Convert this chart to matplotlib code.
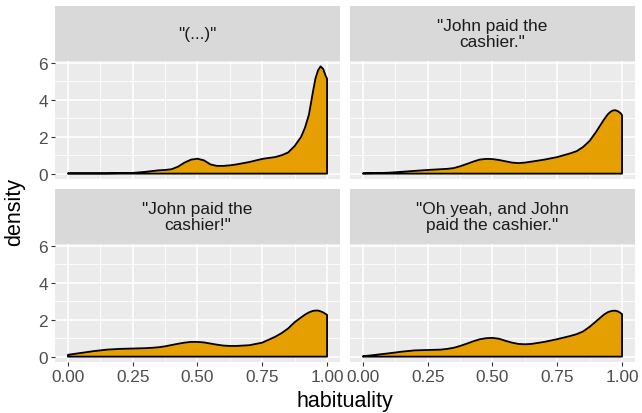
import numpy as np
import matplotlib
matplotlib.use("Agg")
import matplotlib.pyplot as plt

plt.rcParams["font.family"] = ["Liberation Sans", "DejaVu Sans"]

# Density estimates of habituality ratings, one curve per utterance
habituality = [0, 0.05, 0.1, 0.15, 0.2, 0.25, 0.3, 0.325, 0.35, 0.375, 0.4,
               0.425, 0.45, 0.475, 0.5, 0.525, 0.55, 0.575, 0.6, 0.625, 0.65,
               0.7, 0.75, 0.8, 0.825, 0.85, 0.875, 0.9, 0.915, 0.93, 0.945,
               0.955, 0.965, 0.975, 0.985, 0.995, 1.0]

dens_ellipsis = [0.02, 0.02, 0.02, 0.02, 0.03, 0.04, 0.1, 0.14, 0.18, 0.2, 0.24,
                 0.38, 0.6, 0.76, 0.81, 0.72, 0.5, 0.42, 0.42, 0.45, 0.5,
                 0.63, 0.8, 0.9, 1.0, 1.15, 1.5, 2.0, 2.5, 3.2, 4.4,
                 5.15, 5.6, 5.82, 5.68, 5.3, 5.15]
dens_plain = [0.02, 0.03, 0.05, 0.1, 0.15, 0.2, 0.24, 0.26, 0.3, 0.4, 0.52,
              0.65, 0.76, 0.8, 0.79, 0.74, 0.67, 0.6, 0.57, 0.6, 0.65,
              0.76, 0.9, 1.1, 1.22, 1.45, 1.78, 2.27, 2.6, 2.93, 3.22,
              3.35, 3.43, 3.44, 3.38, 3.27, 3.17]
dens_excl = [0.1, 0.2, 0.3, 0.38, 0.42, 0.44, 0.46, 0.48, 0.51, 0.56, 0.63,
             0.7, 0.76, 0.8, 0.8, 0.77, 0.71, 0.65, 0.6, 0.58, 0.58,
             0.62, 0.76, 1.08, 1.28, 1.53, 1.87, 2.13, 2.28, 2.4, 2.48,
             2.5, 2.5, 2.46, 2.4, 2.31, 2.27]
dens_ohyeah = [0.02, 0.1, 0.18, 0.27, 0.34, 0.36, 0.38, 0.42, 0.48, 0.58, 0.7,
               0.83, 0.94, 1.0, 1.02, 0.97, 0.86, 0.76, 0.69, 0.67, 0.69,
               0.8, 0.95, 1.12, 1.22, 1.37, 1.62, 1.92, 2.1, 2.28, 2.41,
               2.46, 2.49, 2.49, 2.45, 2.36, 2.31]

titles = ['"(...)"', '"John paid the\ncashier."',
          '"John paid the\ncashier!"', '"Oh yeah, and John\npaid the cashier."']
curves = [dens_ellipsis, dens_plain, dens_excl, dens_ohyeah]

x_ticks = [0, 0.25, 0.5, 0.75, 1.0]
x_labels = ["0.00", "0.25", "0.50", "0.75", "1.00"]
y_ticks = [0, 2, 4, 6]

W, H = 642, 414
fig = plt.figure(figsize=(W / 100, H / 100), dpi=100)

ymax = max(max(c) for c in curves)
ylim = (-0.05 * ymax, 1.05 * ymax)

# panel boxes in pixels: left, top, width, height
col_left = [55, 350]
row_top = [62, 245]
pw, ph = 285, 118
strip_h = 55

for i, (title, dens) in enumerate(zip(titles, curves)):
    r, c = divmod(i, 2)
    left, top = col_left[c], row_top[r]
    ax = fig.add_axes([left / W, 1 - (top + ph) / H, pw / W, ph / H])
    ax.set_facecolor("#EBEBEB")
    ax.set_xlim(-0.05, 1.05)
    ax.set_ylim(*ylim)

    ax.set_xticks(x_ticks)
    ax.set_xticks([0.125, 0.375, 0.625, 0.875], minor=True)
    ax.set_yticks(y_ticks)
    ax.set_yticks([1, 3, 5], minor=True)
    ax.grid(True, which="major", color="white", linewidth=1.2)
    ax.grid(True, which="minor", color="white", linewidth=0.6)
    ax.set_axisbelow(True)
    for s in ax.spines.values():
        s.set_visible(False)

    ax.tick_params(which="minor", length=0)
    ax.tick_params(which="major", length=3.2, width=0.8, color="#333333",
                   labelsize=12.4, labelcolor="#4D4D4D", pad=2)
    if c == 1:
        ax.tick_params(axis="y", length=0, labelleft=False)
    if r == 0:
        ax.tick_params(axis="x", length=0, labelbottom=False)
    else:
        ax.set_xticklabels(x_labels)

    xs = np.array(habituality)
    ys = np.array(dens)
    px = np.concatenate([[xs[0]], xs, [xs[-1]]])
    py = np.concatenate([[0], ys, [0]])
    ax.fill(px, py, facecolor="#E69F00", edgecolor="black", linewidth=1.3,
            joinstyle="round")

    # facet strip
    sax = fig.add_axes([left / W, 1 - top / H, pw / W, strip_h / H])
    sax.set_facecolor("#D9D9D9")
    sax.set_xticks([])
    sax.set_yticks([])
    for s in sax.spines.values():
        s.set_visible(False)
    sax.text(0.5, 0.5, title, ha="center", va="center", fontsize=12.4,
             color="#1A1A1A", linespacing=1.1, transform=sax.transAxes)

fig.text(345 / W, 1 - 402 / H, "habituality", ha="center", va="center",
         fontsize=15.5, color="black")
fig.text(15 / W, 1 - 212 / H, "density", ha="center", va="center",
         rotation=90, fontsize=15.5, color="black")

fig.savefig("out.png", dpi=100, facecolor="white")
